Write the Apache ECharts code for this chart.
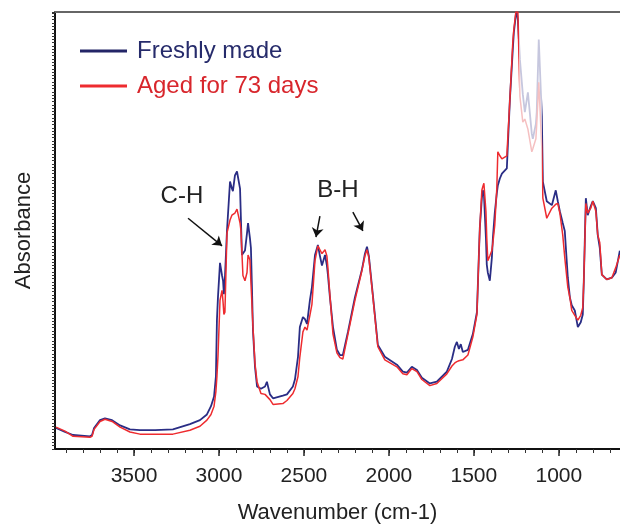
<!DOCTYPE html>
<html>
<head>
<meta charset="utf-8">
<script src="https://cdn.jsdelivr.net/npm/echarts@6/dist/echarts.min.js"></script>
<style>
  html, body { margin: 0; padding: 0; background: #fff; }
  #main { width: 620px; height: 529px; }
</style>
</head>
<body>
<div id="main"></div>
<script>
// wavenumber grid (cm-1)
const wavenumbers = [
  3959, 3906, 3859, 3759, 3747, 3735, 3700, 3671, 3629, 3582,
  3524, 3465, 3376, 3271, 3171, 3112, 3071, 3047, 3029, 3018,
  3012, 3006, 2994, 2982, 2976, 2971, 2965, 2953, 2935, 2924,
  2918, 2906, 2894, 2888, 2876, 2871, 2865, 2859, 2847, 2835,
  2829, 2818, 2812, 2806, 2800, 2788, 2776, 2753, 2729, 2718,
  2700, 2682, 2624, 2600, 2565, 2553, 2535, 2524, 2506, 2494,
  2482, 2465, 2453, 2435, 2418, 2406, 2394, 2376, 2365, 2359,
  2347, 2329, 2306, 2288, 2271, 2241, 2200, 2159, 2141, 2129,
  2118, 2094, 2065, 2024, 1953, 1918, 1894, 1865, 1835, 1806,
  1759, 1718, 1659, 1629, 1612, 1600, 1588, 1577, 1565, 1535,
  1506, 1482, 1471, 1465, 1453, 1447, 1441, 1429, 1424, 1418,
  1406, 1394, 1388, 1377, 1365, 1359, 1347, 1335, 1306, 1288,
  1271, 1265, 1253, 1247, 1241, 1229, 1212, 1200, 1182, 1159,
  1153, 1135, 1130, 1118, 1100, 1094, 1071, 1041, 1018, 1006,
  994, 977, 965, 947, 935, 924, 906, 888, 871, 859,
  853, 841, 830, 812, 800, 782, 771, 759, 747, 718,
  688, 665, 641
];

const freshlyMade = [
  0.048, 0.039, 0.032, 0.029, 0.032, 0.048, 0.066, 0.070, 0.066, 0.054,
  0.045, 0.043, 0.043, 0.045, 0.057, 0.066, 0.079, 0.098, 0.120, 0.166,
  0.295, 0.347, 0.426, 0.397, 0.385, 0.354, 0.392, 0.499, 0.612, 0.596,
  0.590, 0.626, 0.635, 0.637, 0.596, 0.528, 0.444, 0.447, 0.454, 0.494,
  0.517, 0.483, 0.460, 0.370, 0.272, 0.188, 0.143, 0.138, 0.143, 0.154,
  0.125, 0.116, 0.122, 0.125, 0.143, 0.159, 0.211, 0.279, 0.302, 0.297,
  0.286, 0.340, 0.370, 0.444, 0.467, 0.442, 0.420, 0.444, 0.420, 0.399,
  0.347, 0.279, 0.227, 0.215, 0.215, 0.268, 0.347, 0.410, 0.447, 0.463,
  0.442, 0.351, 0.238, 0.211, 0.193, 0.177, 0.175, 0.188, 0.181, 0.163,
  0.150, 0.154, 0.177, 0.206, 0.234, 0.245, 0.229, 0.240, 0.222, 0.227,
  0.263, 0.313, 0.438, 0.506, 0.574, 0.592, 0.585, 0.483, 0.422, 0.404,
  0.385, 0.438, 0.483, 0.540, 0.585, 0.603, 0.619, 0.630, 0.642, 0.800,
  0.914, 0.952, 0.993, 1.000, 0.982, 0.891, 0.812, 0.771, 0.816, 0.721,
  0.710, 0.744, 0.771, 0.937, 0.762, 0.612, 0.567, 0.558, 0.592, 0.567,
  0.544, 0.517, 0.499, 0.392, 0.347, 0.329, 0.317, 0.279, 0.290, 0.308,
  0.385, 0.574, 0.535, 0.556, 0.567, 0.551, 0.490, 0.460, 0.399, 0.388,
  0.392, 0.404, 0.454
];

const aged73Days = [
  0.050, 0.041, 0.029, 0.027, 0.029, 0.045, 0.063, 0.068, 0.063, 0.050,
  0.039, 0.034, 0.034, 0.034, 0.043, 0.052, 0.066, 0.079, 0.098, 0.132,
  0.166, 0.211, 0.340, 0.363, 0.336, 0.308, 0.313, 0.494, 0.524, 0.535,
  0.533, 0.540, 0.549, 0.546, 0.517, 0.501, 0.449, 0.397, 0.385, 0.404,
  0.444, 0.433, 0.381, 0.331, 0.279, 0.195, 0.154, 0.127, 0.125, 0.127,
  0.113, 0.102, 0.104, 0.111, 0.127, 0.138, 0.166, 0.211, 0.268, 0.279,
  0.272, 0.306, 0.331, 0.431, 0.465, 0.456, 0.447, 0.456, 0.442, 0.415,
  0.351, 0.263, 0.220, 0.209, 0.206, 0.263, 0.340, 0.408, 0.442, 0.456,
  0.438, 0.347, 0.234, 0.204, 0.188, 0.172, 0.170, 0.184, 0.177, 0.159,
  0.145, 0.150, 0.172, 0.190, 0.197, 0.200, 0.202, 0.202, 0.204, 0.215,
  0.256, 0.308, 0.438, 0.506, 0.592, 0.601, 0.608, 0.544, 0.483, 0.431,
  0.442, 0.454, 0.472, 0.512, 0.596, 0.680, 0.671, 0.664, 0.671, 0.800,
  0.930, 0.959, 1.000, 1.000, 1.000, 0.807, 0.748, 0.755, 0.732, 0.680,
  0.687, 0.710, 0.744, 0.839, 0.687, 0.574, 0.528, 0.551, 0.560, 0.562,
  0.540, 0.490, 0.438, 0.370, 0.347, 0.317, 0.306, 0.295, 0.306, 0.324,
  0.385, 0.562, 0.540, 0.551, 0.567, 0.544, 0.490, 0.472, 0.399, 0.388,
  0.392, 0.415, 0.444
];

const xLabels = [3500, 3000, 2500, 2000, 1500, 1000];
const xMinorTicks = [
  700, 800, 900, 1000, 1100, 1200, 1300, 1400, 1500, 1600, 1700,
  1800, 1900, 2000, 2100, 2200, 2300, 2400, 2500, 2600, 2700, 2800,
  2900, 3000, 3100, 3200, 3300, 3400, 3500, 3600, 3700, 3800, 3900
];

// annotations: [text, wavenumber, absorbance]
const labels = [['C-H', 3218, 0.578], ['B-H', 2300, 0.592]];
// arrows: [from wn, from abs, to wn, to abs]
const arrows = [
  [3182, 0.528, 2982, 0.465],
  [2406, 0.533, 2429, 0.485],
  [2212, 0.542, 2153, 0.499]
];

const FONT = '"Liberation Sans", Arial, sans-serif';
const BLUE = '#2a2d85';
const RED = '#ee2b2f';

function pairs(xs, ys) {
  return xs.map((x, i) => [x, ys[i]]);
}

let myChart = echarts.init(document.getElementById('main'));

let option = {
  animation: false,
  backgroundColor: '#fff',
  textStyle: { fontFamily: FONT },
  grid: { left: 55, right: 0, top: 12, bottom: 76 },
  legend: {
    orient: 'vertical',
    left: 80,
    top: 39,
    padding: 0,
    icon: 'rect',
    itemWidth: 47,
    itemHeight: 3,
    itemGap: 11,
    textStyle: { fontSize: 24, fontFamily: FONT, padding: [0, 0, 0, 5] },
    data: [
      { name: 'Freshly made', itemStyle: { color: '#232567' }, textStyle: { color: '#262b6b' } },
      { name: 'Aged for 73 days', itemStyle: { color: RED }, textStyle: { color: '#d8262c' } }
    ]
  },
  visualMap: [
    {
      type: 'piecewise', show: false, seriesIndex: 0, dimension: 0,
      pieces: [{ gt: 1097, lt: 1236, color: '#c6c7de' }],
      outOfRange: { color: BLUE }
    },
    {
      type: 'piecewise', show: false, seriesIndex: 1, dimension: 0,
      pieces: [{ gt: 1097, lt: 1236, color: '#f5c0c1' }],
      outOfRange: { color: RED }
    }
  ],
  xAxis: [
    {
      type: 'value',
      min: 640,
      max: 3965,
      inverse: true,
      name: 'Wavenumber (cm-1)',
      nameLocation: 'middle',
      nameGap: 53,
      nameTextStyle: { fontSize: 22, color: '#222', fontFamily: FONT },
      axisLine: { lineStyle: { color: '#111', width: 2 } },
      axisTick: { customValues: xMinorTicks, length: 4, lineStyle: { color: '#333', width: 1 } },
      axisLabel: {
        customValues: xLabels, fontSize: 21, color: '#222', margin: 17, fontFamily: FONT,
        formatter: v => String(v)
      },
      splitLine: { show: false }
    },
    {
      // longer ticks at the labelled values
      type: 'value',
      min: 640,
      max: 3965,
      inverse: true,
      position: 'bottom',
      axisLine: { show: false },
      axisTick: { customValues: xLabels, length: 7, lineStyle: { color: '#222', width: 1.5 } },
      axisLabel: { show: false },
      splitLine: { show: false }
    },
    {
      // top border
      type: 'value',
      min: 640,
      max: 3965,
      inverse: true,
      position: 'top',
      axisLine: { lineStyle: { color: '#666', width: 2 } },
      axisTick: { show: false },
      axisLabel: { show: false },
      splitLine: { show: false }
    }
  ],
  yAxis: {
    type: 'value',
    min: 0,
    max: 1,
    interval: 0.0075,
    name: 'Absorbance',
    nameLocation: 'middle',
    nameGap: 20,
    nameTextStyle: { fontSize: 22, color: '#222', fontFamily: FONT },
    axisLine: { show: true, lineStyle: { color: '#111', width: 2 } },
    axisTick: { show: true, length: 3, lineStyle: { color: '#333', width: 1 } },
    axisLabel: { show: false },
    splitLine: { show: false }
  },
  series: [
    {
      name: 'Freshly made',
      type: 'line',
      showSymbol: false,
      symbol: 'none',
      lineStyle: { width: 1.8 },
      data: pairs(wavenumbers, freshlyMade),
      markLine: {
        silent: true,
        symbol: ['none', 'arrow'],
        symbolSize: 9,
        label: { show: false },
        lineStyle: { color: '#111', width: 1.5, type: 'solid' },
        data: arrows.map(a => [{ coord: [a[0], a[1]] }, { coord: [a[2], a[3]] }])
      },
      markPoint: {
        silent: true,
        symbol: 'circle',
        symbolSize: 0,
        label: { show: true, fontSize: 24, color: '#222', fontFamily: FONT, formatter: p => p.name },
        data: labels.map(l => ({ name: l[0], coord: [l[1], l[2]] }))
      }
    },
    {
      name: 'Aged for 73 days',
      type: 'line',
      showSymbol: false,
      symbol: 'none',
      lineStyle: { width: 1.5 },
      data: pairs(wavenumbers, aged73Days)
    }
  ]
};

myChart.setOption(option, true);
</script>
</body>
</html>
